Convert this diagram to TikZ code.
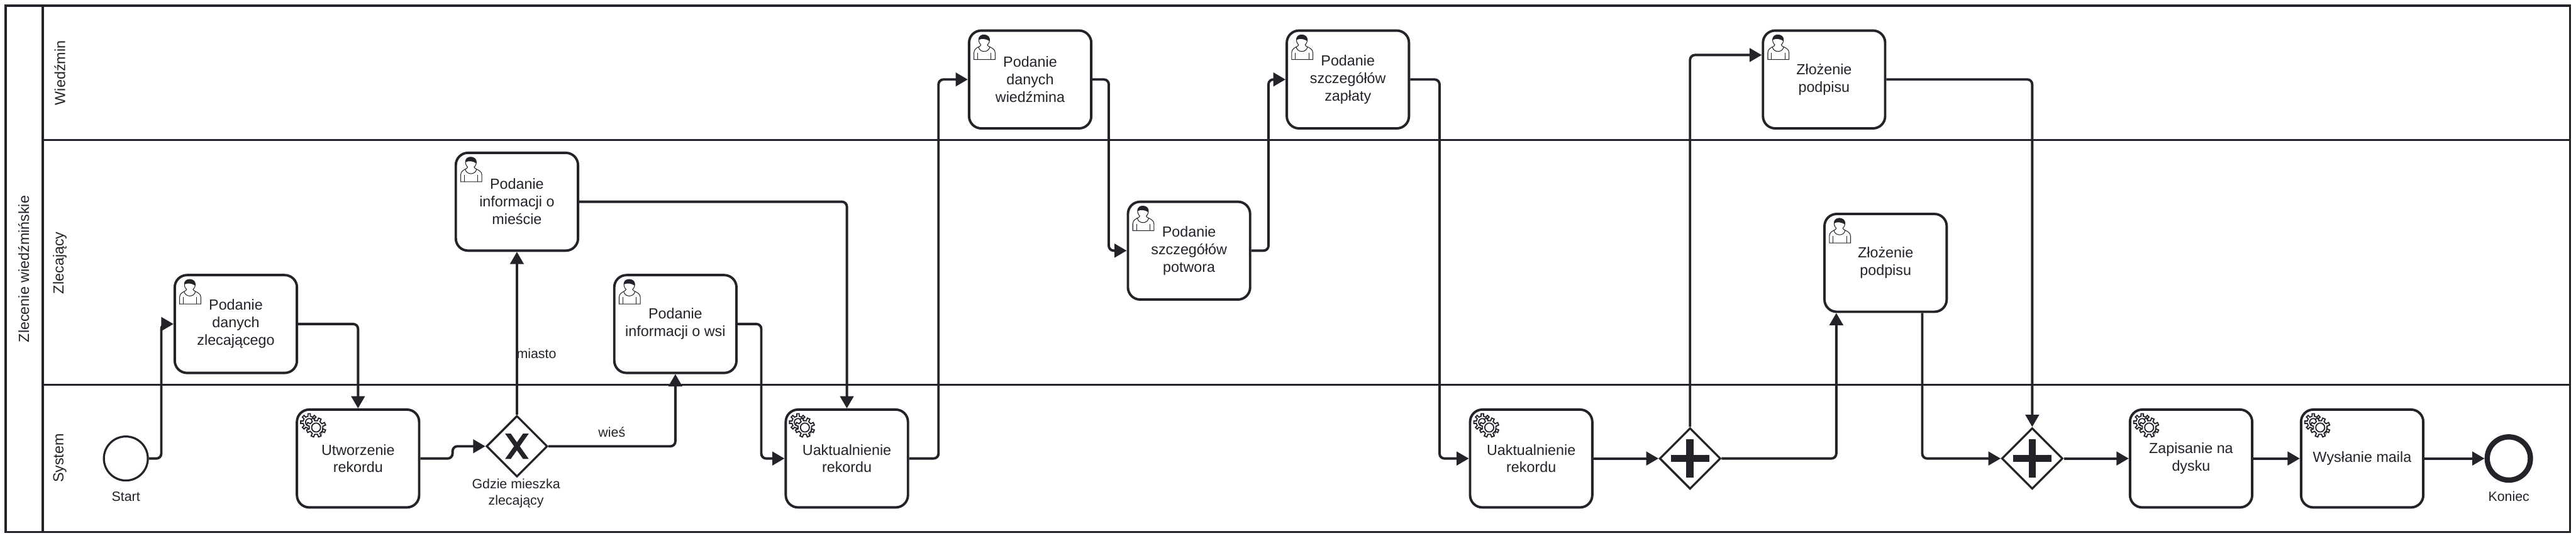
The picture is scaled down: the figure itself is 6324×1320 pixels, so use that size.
\documentclass[tikz,border=0pt]{standalone}
\usepackage{fontspec}
\setmainfont{Liberation Sans}
\usetikzlibrary{arrows.meta,shapes.geometric}
\definecolor{ink}{HTML}{22242A}
\tikzset{
  x=0.5pt,y=-0.5pt,
  lane/.style={draw=ink,line width=2.25pt},
  lanelabel/.style={text=ink,rotate=90,font=\fontsize{18}{21.6}\selectfont,inner sep=0pt,anchor=center},
  task/.style={draw=ink,fill=white,line width=3pt,rounded corners=15pt,minimum width=150pt,minimum height=120pt,inner sep=0pt,align=center,text=ink,font=\fontsize{18}{21.6}\selectfont},
  gate/.style={diamond,shape aspect=1,draw=ink,fill=white,line width=2.5pt,minimum width=75pt,minimum height=75pt,inner sep=0pt},
  startev/.style={circle,draw=ink,fill=white,line width=2.5pt,minimum size=54pt,inner sep=0pt},
  endev/.style={circle,draw=ink,fill=white,line width=6.5pt,minimum size=53pt,inner sep=0pt},
  lab/.style={text=ink,align=center,inner sep=0pt,font=\fontsize{16.5}{19.8}\selectfont},
  flow/.style={draw=ink,line width=3pt,rounded corners=6pt,-{Triangle[length=15pt,width=16.5pt]}},
  usericon/.pic={
    \begin{scope}[shift={(3,3)},draw=ink,line width=0.8pt]
      \draw[fill=white] (12,71) -- (64,71) -- (64,54) .. controls (64,45) and (54,42) .. (47,38) -- (45,35) .. controls (53,28) and (53,11) .. (37,11) .. controls (21,11) and (21,28) .. (29,35) -- (27,38) .. controls (20,42) and (12,45) .. (12,54) -- cycle;
      \fill[ink] (23.5,23) .. controls (22,5) and (52,5) .. (50.5,26) .. controls (44,21) and (32,18) .. (23.5,23) -- cycle;
      \draw (23,40) .. controls (26,55) and (48,55) .. (51,40);
      \draw (21,54) -- (21,71);
      \draw (54,54) -- (54,71);
    \end{scope}
  },
  gearicon/.pic={
    \begin{scope}[shift={(3,3)},draw=ink,line width=1.4pt,fill=white]
      \begin{scope}[shift={(30,31)}]
        \draw (0:15) \foreach \a in {0,45,...,315}{ -- (\a-11:15) -- (\a-8:21) -- (\a+8:21) -- (\a+11:15)} -- cycle;
        \draw (0:9) arc (0:360:9);
      \end{scope}
      \begin{scope}[shift={(47,44)}]
        \filldraw (22.5:17) \foreach \a in {22.5,67.5,...,337.5}{ -- (\a-11:17) -- (\a-8:24) -- (\a+8:24) -- (\a+11:17)} -- cycle;
        \draw (0:11) arc (0:360:11);
      \end{scope}
    \end{scope}
  },
  xmark/.pic={
    \fill[ink] (-29,-31) -- (-15,-31) -- (29,31) -- (15,31) -- cycle;
    \fill[ink] (29,-31) -- (15,-31) -- (-29,31) -- (-15,31) -- cycle;
  },
  plusmark/.pic={
    \fill[ink] (-47,-9) rectangle (47,9);
    \fill[ink] (-9,-47) rectangle (9,47);
  },
}
\begin{document}
\begin{tikzpicture}
\useasboundingbox (0,0) rectangle (6324,1320);
\fill[white] (0,0) rectangle (6324,1320);
% pool and lanes
\draw[lane,line width=2.5pt] (14,14) rectangle (6309,1305);
\draw[lane,line width=2.5pt] (105,14) -- (105,1305);
\draw[lane] (105,344) -- (6309,344);
\draw[lane] (105,944) -- (6309,944);
\node[lanelabel] (pool) at (58,660) {Zlecenie wiedźmińskie};
\node[lanelabel] (l1) at (147,179) {Wiedźmin};
\node[lanelabel] (l2) at (147,645) {Zlecający};
\node[lanelabel] (l3) at (147,1124) {System};
% events
\node[startev] (start) at (309,1125) {};
\node[lab] (startl) at (309,1218) {Start};
\node[endev] (end) at (6159,1125) {};
\node[lab] (endl) at (6159,1218) {Koniec};
% tasks
\node[task] (a) at (579,795) {Podanie\\danych\\zlecającego};
\node[task] (b) at (879,1125) {Utworzenie\\rekordu};
\node[task] (c) at (1269,495) {Podanie\\informacji o\\mieście};
\node[task] (d) at (1658,795) {Podanie\\informacji o wsi};
\node[task] (e) at (2079,1125) {Uaktualnienie\\rekordu};
\node[task] (f) at (2529,195) {Podanie\\danych\\wiedźmina};
\node[task] (g) at (2919,615) {Podanie\\szczegółów\\potwora};
\node[task] (h) at (3309,195) {Podanie\\szczegółów\\zapłaty};
\node[task] (i) at (3759,1125) {Uaktualnienie\\rekordu};
\node[task] (j) at (4478,195) {Złożenie\\podpisu};
\node[task] (k) at (4629,645) {Złożenie\\podpisu};
\node[task] (m) at (5379,1125) {Zapisanie na\\dysku};
\node[task] (n) at (5799,1125) {Wysłanie maila};
\foreach \t in {a,c,d,f,g,h,j,k} \pic at (\t.north west) {usericon};
\foreach \t in {b,e,i,m,n} \pic at (\t.north west) {gearicon};
% gateways
\node[gate] (gx) at (1269,1095) {};
\pic at (gx) {xmark};
\node[gate] (gp) at (4149,1125) {};
\pic at (gp) {plusmark};
\node[gate] (gq) at (4989,1125) {};
\pic at (gq) {plusmark};
\node[lab] (gxl) at (1267,1210) {Gdzie mieszka\\zlecający};
\node[lab] (miasto) at (1317,868) {miasto};
\node[lab] (wies) at (1502,1060) {wieś};
% flows
\draw[flow] (start.east) -| ([xshift=-15pt]a.west) -- (a.west);
\draw[flow] (a.east) -| (b.north);
\draw[flow] (b.east) -- ++(79,0) |- (gx.west);
\draw[flow] (gx.north) -- (c.south);
\draw[flow] (gx.east) -| (d.south);
\draw[flow] (c.east) -| (e.north);
\draw[flow] (d.east) -- ++(58,0) |- (e.west);
\draw[flow] (e.east) -- ++(72,0) |- (f.west);
\draw[flow] (f.east) -- ++(40,0) |- (g.west);
\draw[flow] (g.east) -- ++(42,0) |- (h.west);
\draw[flow] (h.east) -- ++(72,0) |- (i.west);
\draw[flow] (i.east) -- (gp.west);
\draw[flow] (gp.north) |- ([yshift=30pt]j.west);
\draw[flow] (gp.east) -| ([xshift=-60.5pt]k.south);
\draw[flow] (j.east) -| (gq.north);
\draw[flow] ([xshift=45pt]k.south) |- (gq.west);
\draw[flow] (gq.east) -- (m.west);
\draw[flow] (m.east) -- (n.west);
\draw[flow] (n.east) -- (end.west);
\end{tikzpicture}
\end{document}
